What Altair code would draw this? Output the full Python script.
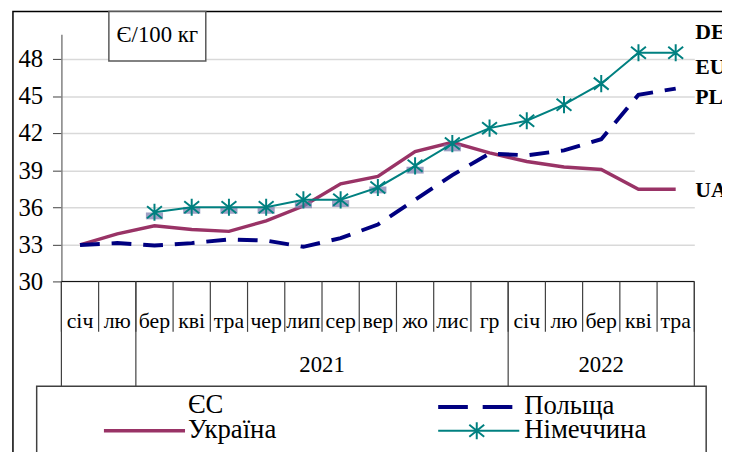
import altair as alt
import pandas as pd

# ---------------- data ----------------
months = ["січ", "лю", "бер", "кві", "тра", "чер", "лип", "сер", "вер", "жо", "лис", "гр",
          "січ", "лю", "бер", "кві", "тра"]
years = ["", "2021", "2022"]
year_bounds = [0, 2, 12, 17]

ukraine = [32.95, 33.85, 34.5, 34.2, 34.05, 34.9, 36.1, 37.9, 38.5, 40.5, 41.25, 40.4,
           39.7, 39.25, 39.05, 37.45, 37.45]
poland = [32.95, 33.1, 32.9, 33.1, 33.4, 33.3, 32.8, 33.5, 34.6, 36.6, 38.6, 40.35,
          40.2, 40.6, 41.5, 45.1, 45.6]
germany = [None, None, 35.6, 36.0, 36.0, 36.0, 36.6, 36.6, 37.6, 39.35, 41.15, 42.4,
           43.0, 44.3, 46.0, 48.5, 48.5]
eu_marks = [None, None, 35.3, 35.75, 35.75, 35.75, 36.2, 36.3, 37.4, 39.0, 40.8, None,
            None, None, None, None, None]

end_labels = ["DE", "EU", "PL", "UA"]
end_label_y = [50.2, 47.35, 44.9, 37.35]

y_ticks = [30, 33, 36, 39, 42, 45, 48]

FONT = "Liberation Serif"
W, H = 640, 250
N = len(months)

# ---------------- tables ----------------
rows = []
for i in range(N):
    rows.append({"i": i + 0.5, "series": "Україна", "v": ukraine[i]})
    rows.append({"i": i + 0.5, "series": "Польща", "v": poland[i]})
    if germany[i] is not None:
        rows.append({"i": i + 0.5, "series": "Німеччина", "v": germany[i]})
df = pd.DataFrame(rows)
df_eu = pd.DataFrame([{"i": i + 0.5, "v": v} for i, v in enumerate(eu_marks) if v is not None])
df_months = pd.DataFrame({"i": [i + 0.5 for i in range(N)], "m": months})
df_mticks = pd.DataFrame({"i": list(range(N + 1))})
df_yticks = pd.DataFrame({"i": year_bounds})
df_years = pd.DataFrame({"i": [(year_bounds[k] + year_bounds[k + 1]) / 2 for k in range(3)],
                         "t": years})
df_end = pd.DataFrame({"t": end_labels, "v": end_label_y, "i": [N] * 4})
one = pd.DataFrame({"a": [0]})

xs = alt.Scale(domain=[0, N], nice=False, zero=False)
ys = alt.Scale(domain=[30, 50], nice=False, zero=False)
Y_AXIS = alt.Axis(values=y_ticks, grid=True, gridColor="#d9d9d9", gridWidth=1.5,
                  tickSize=9, tickColor="#404040", domainColor="#808080",
                  domainWidth=1.5, labelFont=FONT, labelFontSize=25,
                  labelColor="#000000", labelPadding=10, title=None)


def Y(field="v:Q"):
    return alt.Y(field, scale=ys, axis=Y_AXIS)


def X(field="i:Q"):
    return alt.X(field, scale=xs, axis=None)


STAR = "M0,-1L0,1M-0.87,-0.7L0.87,0.7M-0.87,0.7L0.87,-0.7"
RECT = "M-1,-0.4L1,-0.4L1,0.4L-1,0.4Z"

# frame & decorations
outer = alt.Chart(one).mark_rect(fillOpacity=0, stroke="#000000", strokeWidth=1.5).encode(
    x=alt.value(-49), x2=alt.value(720), y=alt.value(-23), y2=alt.value(460))

base_axis = alt.Chart(one).mark_rule(color="#000000", strokeWidth=1).encode(
    x=alt.value(0), x2=alt.value(W), y=alt.value(H))

mticks = alt.Chart(df_mticks).mark_rule(color="#404040", strokeWidth=1.2).encode(
    x=X(), y=alt.value(H), y2=alt.value(301))
yticks = alt.Chart(df_yticks).mark_rule(color="#404040", strokeWidth=1.2).encode(
    x=X(), y=alt.value(H), y2=alt.value(356))
mlabels = alt.Chart(df_months).mark_text(font=FONT, fontSize=22, baseline="middle",
                                         color="#000000").encode(
    x=X(), y=alt.value(290), text="m:N")
ylabels = alt.Chart(df_years).mark_text(font=FONT, fontSize=23, baseline="middle",
                                        color="#000000").encode(
    x=X(), y=alt.value(335), text="t:N")

line_ua = alt.Chart(df).transform_filter(alt.datum.series == "Україна").mark_line(
    color="#993366", strokeWidth=3.5).encode(x=X(), y=Y())
line_pl = alt.Chart(df).transform_filter(alt.datum.series == "Польща").mark_line(
    color="#000080", strokeWidth=4, strokeDash=[20, 12]).encode(x=X(), y=Y())
eu_pts = alt.Chart(df_eu).mark_point(shape=RECT, size=300, filled=True, color="#8080b0",
                                     opacity=0.75).encode(x=X(), y=Y())
line_de = alt.Chart(df).transform_filter(alt.datum.series == "Німеччина").mark_line(
    color="#008080", strokeWidth=2).encode(x=X(), y=Y())
pts_de = alt.Chart(df).transform_filter(alt.datum.series == "Німеччина").mark_point(
    shape=STAR, size=300, filled=False, color="#008080", strokeWidth=2,
    opacity=1).encode(x=X(), y=Y())

end_txt = alt.Chart(df_end).mark_text(font=FONT, fontSize=22, fontWeight="bold",
                                      align="left", baseline="middle", dx=1,
                                      color="#000000").encode(
    x=X(), y=Y(), text="t:N")

unit_box = alt.Chart(one).mark_rect(fill="white", stroke="#595959", strokeWidth=1.5).encode(
    x=alt.value(48), x2=alt.value(146), y=alt.value(-23), y2=alt.value(27))
unit_txt = alt.Chart(one).mark_text(font=FONT, fontSize=23, baseline="middle",
                                    color="#000000", text="Є/100 кг").encode(
    x=alt.value(97), y=alt.value(1))

# legend
leg_box = alt.Chart(one).mark_rect(fill="white", stroke="#404040", strokeWidth=1.5).encode(
    x=alt.value(-25), x2=alt.value(652), y=alt.value(356), y2=alt.value(470))
leg_texts = pd.DataFrame({
    "t": ["ЄС", "Україна", "Польща", "Німеччина"],
    "px": [128, 128, 468, 468],
    "py": [383, 408, 384, 408],
})
leg_txt = alt.Chart(leg_texts).mark_text(font=FONT, fontSize=27, align="left",
                                         baseline="alphabetic", color="#000000").encode(
    x=alt.X("px:Q", scale=None), y=alt.Y("py:Q", scale=None), text="t:N")
leg_ua = alt.Chart(one).mark_rule(color="#993366", strokeWidth=3.5).encode(
    x=alt.value(43), x2=alt.value(125), y=alt.value(401))
leg_pl = alt.Chart(one).mark_rule(color="#000080", strokeWidth=4, strokeDash=[30, 15]).encode(
    x=alt.value(381), x2=alt.value(456), y=alt.value(377))
leg_de = alt.Chart(one).mark_rule(color="#008080", strokeWidth=2).encode(
    x=alt.value(381), x2=alt.value(463), y=alt.value(401))
leg_star = alt.Chart(one).mark_point(shape=STAR, size=300, filled=False, color="#008080",
                                     strokeWidth=2, opacity=1).encode(
    x=alt.value(420), y=alt.value(401))

chart = alt.layer(
    outer, base_axis, mticks, yticks, mlabels, ylabels,
    line_ua, line_pl, eu_pts, line_de, pts_de, end_txt,
    unit_box, unit_txt,
    leg_box, leg_txt, leg_ua, leg_pl, leg_de, leg_star,
).properties(
    width=W, height=H,
    background="white",
    autosize=alt.AutoSizeParams(type="none"),
    padding={"left": 54, "top": 24, "right": 28, "bottom": 170},
).configure_view(stroke=None)

chart.save("out.html", embed_options={"renderer": "svg", "actions": False})
